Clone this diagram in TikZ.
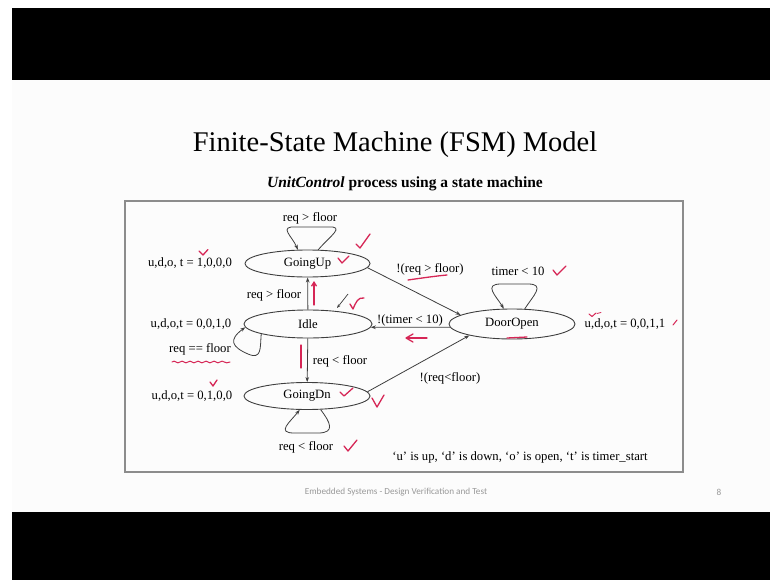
\documentclass[tikz,border=0pt]{standalone}
\usepackage{fontspec}
\setmainfont{Liberation Serif}
\newfontfamily\footfont{Carlito}
\usetikzlibrary{arrows.meta,shapes.geometric}
\definecolor{slidebg}{RGB}{252,252,252}
\definecolor{edgecol}{RGB}{62,62,62}
\definecolor{boxgray}{RGB}{140,140,140}
\definecolor{pen}{RGB}{214,38,86}
\newcommand\lblfont{\fontsize{12.7}{15}\selectfont}
\begin{document}
\begin{tikzpicture}[x=1pt,y=-1pt,
  state/.style={ellipse, draw=edgecol, line width=0.9pt, inner sep=0pt, font=\lblfont},
  lbl/.style={inner sep=0pt, font=\lblfont},
  arr/.style={draw=edgecol, line width=0.8pt, -{Stealth[length=5pt,width=3.6pt]}},
  pen/.style={draw=pen, line width=1.3pt, line cap=round, line join=round},
  smudge/.style={draw=edgecol, line width=0.7pt, -{Stealth[length=4pt,width=3pt]}},
  foot/.style={inner sep=0pt, font=\footfont\fontsize{9.2}{11}\selectfont, text=gray!80}]
\useasboundingbox (0,0) rectangle (770,580);
% slide frame with black bars
\fill[white] (0,0) rectangle (770,580);
\fill[black] (12,8) rectangle (770,80);
\fill[slidebg] (12,80) rectangle (770,512);
\fill[black] (12,512) rectangle (770,580);

% headings
\node[inner sep=0pt, font=\fontsize{28.5}{32}\selectfont] (title) at (395,145) {Finite-State Machine (FSM) Model};
\node[inner sep=0pt, font=\fontsize{15.5}{18}\selectfont\bfseries] (subtitle) at (405,184) {\textit{UnitControl} process using a state machine};

% diagram frame
\draw[boxgray, line width=1.4pt] (125,201) rectangle (683,472);

% states
\node[state, minimum width=125pt, minimum height=27pt] (GoingUp) at (307.5,263.5) {GoingUp};
\node[state, minimum width=128pt, minimum height=28pt] (Idle) at (308,324) {Idle};
\node[state, minimum width=126pt, minimum height=27pt] (GoingDn) at (307,396) {GoingDn};
\node[state, minimum width=126pt, minimum height=30pt] (DoorOpen) at (512,324) {DoorOpen};

% transitions
\draw[arr] (Idle) -- (GoingUp);
\draw[arr] (Idle) -- (GoingDn);
\draw[arr] (GoingUp.-4) -- (DoorOpen.170);
\draw[arr] (GoingDn.4) -- (DoorOpen.195);
\draw[arr] (DoorOpen.183) -- (Idle.-3);

% self loops: legs spread outwards, rounded crown
\draw[arr] (GoingUp.52) .. controls (330,236) and (346,226) .. (328,227)
  -- (296,227) .. controls (278,226) and (292,236) .. (GoingUp.125);
\draw[arr] (DoorOpen.50) .. controls (533,296) and (546,284) .. (528,284)
  -- (501,284) .. controls (483,284) and (496,296) .. (DoorOpen.118);
\draw[arr] (GoingDn.315) .. controls (330,422) and (336,433) .. (318,433)
  -- (294,433) .. controls (276,433) and (290,422) .. (GoingDn.242);
\draw[arr] (Idle.192) .. controls (260,348) and (262,360) .. (248,354)
  .. controls (232,347) and (228,340) .. (Idle.183);

% guards
\node[lbl] (gUpLoop) at (310,218) {req > floor};
\node[lbl] (gIdleUp) at (274,295) {req > floor};
\node[lbl] (gIdleDn) at (340,361) {req < floor};
\node[lbl] (gDnLoop) at (306,447) {req < floor};
\node[lbl] (gIdleLoop) at (200,349) {req == floor};
\node[lbl] (gUpOpen) at (430,269) {!(req > floor)};
\node[lbl] (gOpenLoop) at (518,271) {timer < 10};
\node[lbl] (gOpenIdle) at (410,320) {!(timer < 10)};
\node[lbl] (gDnOpen) at (450,378) {!(req<floor)};

% outputs
\node[lbl] (oUp) at (190,263) {u,d,o, t = 1,0,0,0};
\node[lbl] (oIdle) at (191,324) {u,d,o,t = 0,0,1,0};
\node[lbl] (oDn) at (192,396) {u,d,o,t = 0,1,0,0};
\node[lbl] (oOpen) at (625,324.5) {u,d,o,t = 0,0,1,1};
\node[lbl] (legend) at (520,457) {`u' is up, `d' is down, `o' is open, `t' is timer\_start};

% footer
\node[foot] (footer) at (396,492) {Embedded Systems - Design Verification and Test};
\node[foot] (pageno) at (719,492) {8};

% hand annotations
\draw[pen] (199,251) -- (203,255) -- (208,249.5);
\draw[pen] (338,258) -- (342,263) -- (349,256);
\draw[pen] (356,244) -- (360,248) -- (370,234);
\draw[pen, -{Straight Barb[length=4pt,width=5pt]}] (314,305) -- (314,281);
\draw[smudge] (348,294) -- (337,308);
\draw[pen] (350,304) -- (353,309) .. controls (356,302) and (358,297) .. (364,298);
\draw[pen] (408,280) .. controls (422,278) and (436,276) .. (447,275);
\draw[pen] (427,338) -- (407,338);
\draw[pen] (413,334) -- (406,338) -- (413,342);
\draw[pen] (507,338) -- (527,337);
\draw[pen] (553,270) -- (557,275) -- (566,266);
\draw[pen, line width=1pt] (589,314) -- (592,316.5) -- (596,313);
\draw[pen, line width=0.8pt] (597,313.5) .. controls (598.5,312) and (599.5,314) .. (601,312.5);
\draw[pen, line width=1pt] (673,325) -- (677,320);
\draw[pen] (301,345) -- (301,368);
\draw[pen, line width=1pt] (172,362) .. controls (175,359) and (177,365) .. (180,362)
  .. controls (183,359) and (185,365) .. (188,362)
  .. controls (191,359) and (193,365) .. (196,362)
  .. controls (199,359) and (201,365) .. (204,362)
  .. controls (207,359) and (209,365) .. (212,362)
  .. controls (215,359) and (217,365) .. (220,362)
  .. controls (223,359) and (225,365) .. (230,362);
\draw[pen] (210,382) -- (213,386) -- (217,380);
\draw[pen] (340,392) -- (344,396) -- (353,388);
\draw[pen] (372,398) -- (377,407) -- (384,395);
\draw[pen] (344,446) -- (348,451) -- (357,440);
\end{tikzpicture}
\end{document}
